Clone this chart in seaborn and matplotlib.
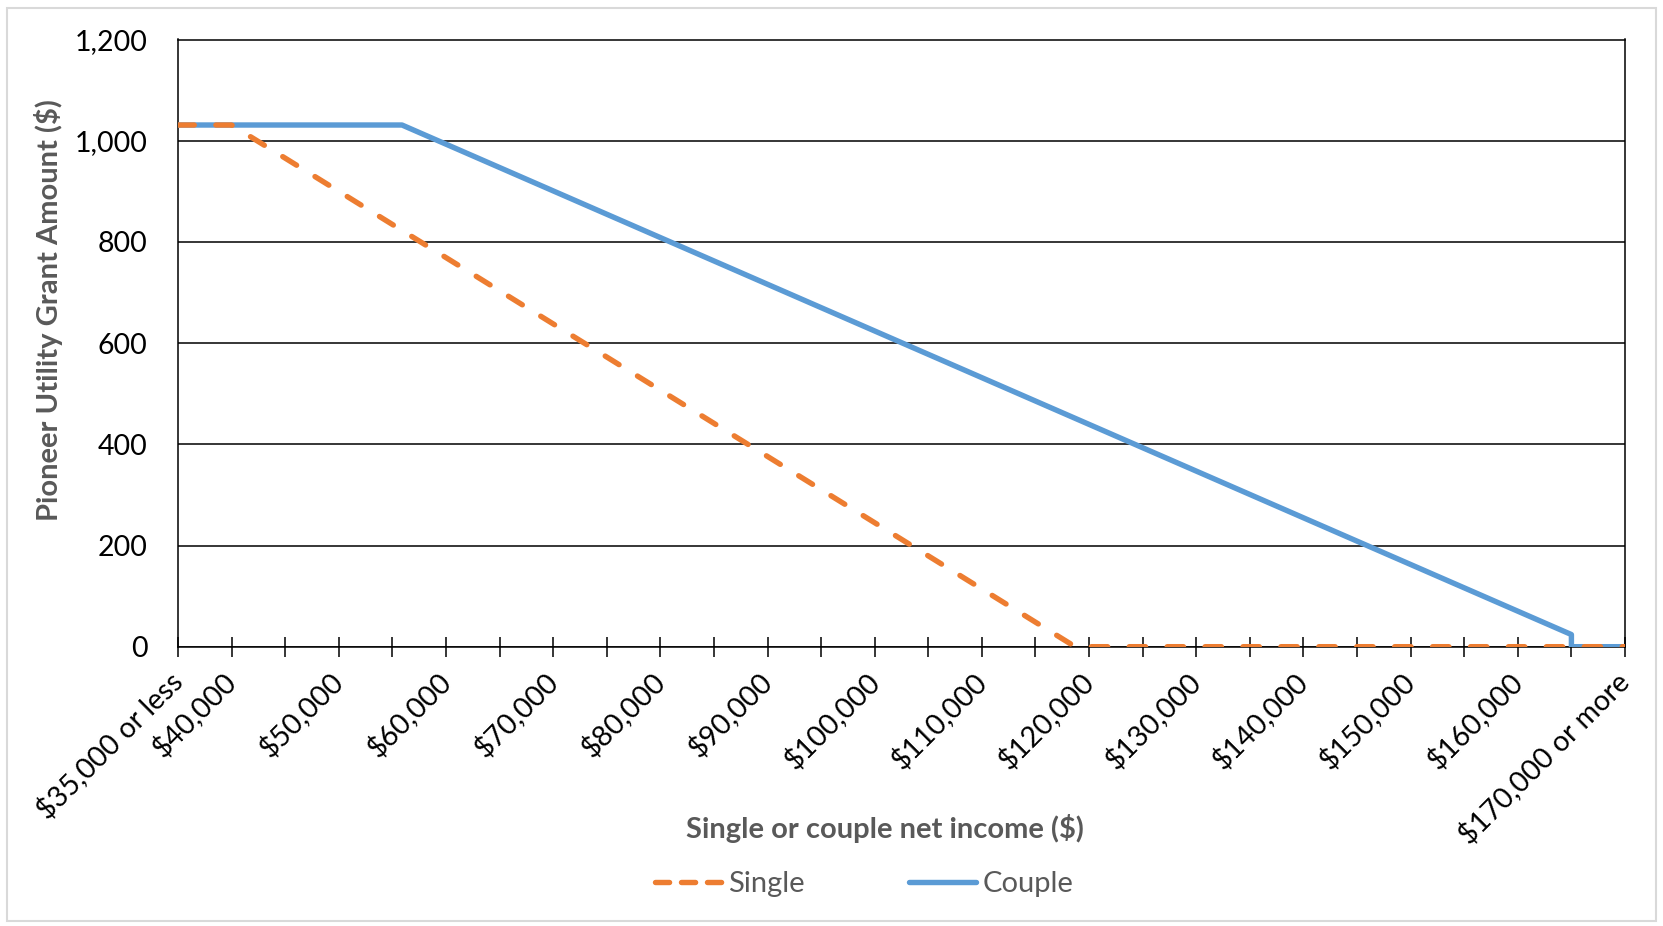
import matplotlib
matplotlib.use("Agg")
import matplotlib.pyplot as plt
import seaborn as sns
import pandas as pd
from matplotlib.lines import Line2D
from matplotlib.patches import Rectangle

# Grant amount ($) at the income breakpoints ($)
single_income = [35000, 40000, 118700, 170000]
single_grant = [1031, 1031, 0, 0]
couple_income = [35000, 55900, 165000, 165000, 170000]
couple_grant = [1031, 1031, 24, 0, 0]

# x ticks every $5,000, labels only every $10,000
tick_values = list(range(35000, 170001, 5000))
tick_labels = ["$35,000 or less", "$40,000", "", "$50,000", "", "$60,000", "",
               "$70,000", "", "$80,000", "", "$90,000", "", "$100,000", "",
               "$110,000", "", "$120,000", "", "$130,000", "", "$140,000", "",
               "$150,000", "", "$160,000", "", "$170,000 or more"]
y_ticks = [0, 200, 400, 600, 800, 1000, 1200]

single_df = pd.DataFrame({"income": single_income, "grant": single_grant})
couple_df = pd.DataFrame({"income": couple_income, "grant": couple_grant})

sns.set_theme(style="white")
plt.rcParams["font.family"] = ["Lato", "DejaVu Sans"]

ORANGE = "#ED7D31"
BLUE = "#5B9BD5"
GREY = "#595959"
FS = 21

fig = plt.figure(figsize=(16.63, 9.26), dpi=100)
ax = fig.add_axes([178 / 1663, 1 - 646.7 / 926, (1625 - 178) / 1663, (646.7 - 39.5) / 926])

sns.lineplot(data=couple_df, x="income", y="grant", ax=ax, color=BLUE,
             linewidth=3.9, estimator=None, sort=False, solid_capstyle="butt", zorder=3)
sns.lineplot(data=single_df, x="income", y="grant", ax=ax, color=ORANGE,
             linewidth=3.9, estimator=None, sort=False,
             linestyle=(0, (3.0, 4.0)), dash_capstyle="round", zorder=4)

ax.set_xlim(35000, 170000)
ax.set_ylim(0, 1200)
ax.set_yticks(y_ticks)
ax.set_yticklabels([f"{v:,}" for v in y_ticks])
ax.set_xticks(tick_values)
ax.set_xticklabels(tick_labels, rotation=45, ha="right", va="center", rotation_mode="anchor")

ax.grid(axis="y", color="black", linewidth=1.1)
ax.set_axisbelow(True)
for s in ax.spines.values():
    s.set_color("black")
    s.set_linewidth(1.1)

ax.tick_params(axis="x", direction="inout", length=14, width=1.1, color="black",
               labelsize=FS - 0.5, pad=15, labelcolor="black", bottom=True)
ax.tick_params(axis="y", length=0, labelsize=FS - 0.5, pad=22, labelcolor="black")

ax.set_xlabel("Single or couple net income ($)", fontsize=FS, fontweight="bold", color=GREY)
ax.set_ylabel("Pioneer Utility Grant Amount ($)", fontsize=FS, fontweight="bold", color=GREY)
ax.xaxis.set_label_coords(0.4886, -0.2986)
ax.xaxis.label.set_va("center")
ax.yaxis.set_label_coords(-0.0898, 0.5545)
ax.yaxis.label.set_va("center")

handles = [
    Line2D([], [], color=ORANGE, linewidth=3.9, linestyle=(0, (2.6, 2.2)), dash_capstyle="round"),
    Line2D([], [], color=BLUE, linewidth=3.9),
]
leg = fig.legend(handles, ["Single", "Couple"], loc="center", ncol=2,
                 bbox_to_anchor=(864 / 1663, 1 - 884 / 926), frameon=False,
                 fontsize=FS, handlelength=2.3, handletextpad=0.2, columnspacing=3.6)
for t in leg.get_texts():
    t.set_color(GREY)

fig.patches.append(Rectangle((7 / 1663, 5 / 926), 1649 / 1663, 913 / 926,
                             transform=fig.transFigure, fill=False,
                             edgecolor="#d9d9d9", linewidth=1.5))

fig.savefig("out.png", dpi=100)
